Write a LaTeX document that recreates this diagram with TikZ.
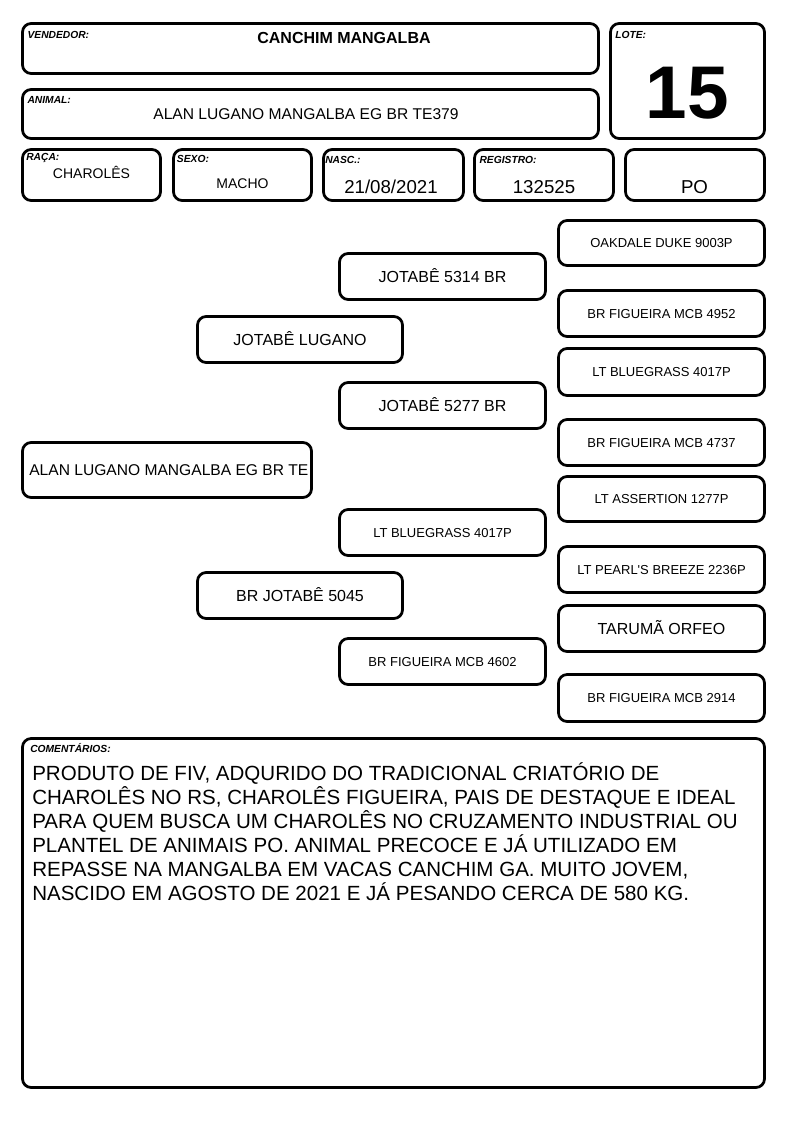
\documentclass[tikz,border=0pt]{standalone}
\usepackage{fontspec}
\setmainfont{Liberation Sans}
\newcommand\mkbox[7][]{\node[bxs,#1,minimum width={(#5-#3-3)*0.75pt},minimum height={(#6-#4-3)*0.75pt}] (#2) at ({(#3+#5)/2},{(#4+#6)/2}) {#7};}
\begin{document}
\begin{tikzpicture}[x=0.75pt,y=-0.75pt,
  bxs/.style={draw,line width=2.05pt,rounded corners=6.5pt,inner sep=0pt},
  lbl/.style={font=\fontsize{7.7}{9}\selectfont\bfseries\itshape,anchor=base west,inner sep=0pt},
  big/.style={font=\fontsize{12}{14}\selectfont,text height=8.6pt,text depth=0pt},
  sml/.style={font=\fontsize{9.75}{12}\selectfont,text height=7pt,text depth=0pt},
  val/.style={anchor=base,inner sep=0pt},
  com/.style={anchor=base west,inner sep=0pt,font=\fontsize{15.4}{18}\selectfont}]
\useasboundingbox (0,0) rectangle (794,1123);
% header boxes
\mkbox{vend}{21}{22}{600}{75}{}
\mkbox{lote}{609}{22}{766}{140}{}
\mkbox{anim}{21}{88}{600}{140}{}
\mkbox{raca}{21}{148}{162}{202}{}
\mkbox{sexo}{172}{148}{313}{202}{}
\mkbox{nasc}{322}{148}{465}{202}{}
\mkbox{reg}{473}{148}{615}{202}{}
\mkbox{po}{624}{148}{766}{202}{}
% labels
\node[lbl] (lvend) at (27.3,39) {VENDEDOR:};
\node[lbl] (lanim) at (27.3,103.3) {ANIMAL:};
\node[lbl] (llote) at (615,39) {LOTE:};
\node[lbl] (lraca) at (26,160.5) {RAÇA:};
\node[lbl] (lsexo) at (176.7,163) {SEXO:};
\node[lbl] (lnasc) at (325,164) {NASC.:};
\node[lbl] (lreg) at (479.3,164) {REGISTRO:};
% values
\node[val,font=\fontsize{12}{14}\selectfont\bfseries] (tvend) at (344,43.3) {CANCHIM MANGALBA};
\node[val,font=\fontsize{11.7}{14}\selectfont] (tanim) at (306,119.3) {ALAN LUGANO MANGALBA EG BR TE379};
\node[val,font=\fontsize{56}{60}\selectfont\bfseries] (tlote) at (687.5,118.3) {15};
\node[val,font=\fontsize{10.5}{12}\selectfont] (traca) at (91.5,178.3) {CHAROLÊS};
\node[val,font=\fontsize{10.5}{12}\selectfont] (tsexo) at (242.5,188.3) {MACHO};
\node[val,font=\fontsize{14}{16}\selectfont] (tnasc) at (391,193.3) {21/08/2021};
\node[val,font=\fontsize{14}{16}\selectfont] (treg) at (544,193.3) {132525};
\node[val,font=\fontsize{14}{16}\selectfont] (tpo) at (694.5,194) {PO};
% pedigree
\mkbox{main}{21}{441}{313}{499}{}
\node[big,font=\fontsize{11.7}{14}\selectfont,anchor=west,inner sep=0pt] (maintxt) at (29,470) {ALAN LUGANO MANGALBA EG BR TE};
\mkbox[big]{jl}{196}{315}{404}{364}{JOTABÊ LUGANO}
\mkbox[big]{bj}{196}{571}{404}{620}{BR JOTABÊ 5045}
\mkbox[big]{ja}{338}{252}{547}{301}{JOTABÊ 5314 BR}
\mkbox[big]{jb}{338}{381}{547}{430}{JOTABÊ 5277 BR}
\mkbox[sml]{ltb}{338}{508}{547}{557}{LT BLUEGRASS 4017P}
\mkbox[sml]{bfa}{338}{637}{547}{686}{BR FIGUEIRA MCB 4602}
\mkbox[sml]{oak}{557}{219}{766}{267}{OAKDALE DUKE 9003P}
\mkbox[sml]{bfb}{557}{289}{766}{338}{BR FIGUEIRA MCB 4952}
\mkbox[sml]{ltc}{557}{347}{766}{397}{LT BLUEGRASS 4017P}
\mkbox[sml]{bfc}{557}{418}{766}{467}{BR FIGUEIRA MCB 4737}
\mkbox[sml]{lta}{557}{475}{766}{523}{LT ASSERTION 1277P}
\mkbox[sml]{ltp}{557}{545}{766}{594}{LT PEARL\textquotesingle S BREEZE 2236P}
\mkbox[big]{tar}{557}{604}{766}{653}{TARUMÃ ORFEO}
\mkbox[sml]{bfd}{557}{673}{766}{723}{BR FIGUEIRA MCB 2914}
% comments
\mkbox{comb}{21}{737}{766}{1089}{}
\node[lbl] (lcom) at (30,752.7) {COMENTÁRIOS:};
\node[com] (c1) at (32,780) {PRODUTO DE FIV, ADQURIDO DO TRADICIONAL CRIATÓRIO DE};
\node[com] (c2) at (32,804) {CHAROLÊS NO RS, CHAROLÊS FIGUEIRA, PAIS DE DESTAQUE E IDEAL};
\node[com] (c3) at (32,828) {PARA QUEM BUSCA UM CHAROLÊS NO CRUZAMENTO INDUSTRIAL OU};
\node[com] (c4) at (32,852) {PLANTEL DE ANIMAIS PO. ANIMAL PRECOCE E JÁ UTILIZADO EM};
\node[com] (c5) at (32,876) {REPASSE NA MANGALBA EM VACAS CANCHIM GA. MUITO JOVEM,};
\node[com] (c6) at (32,900) {NASCIDO EM AGOSTO DE 2021 E JÁ PESANDO CERCA DE 580 KG.};
\end{tikzpicture}
\end{document}
